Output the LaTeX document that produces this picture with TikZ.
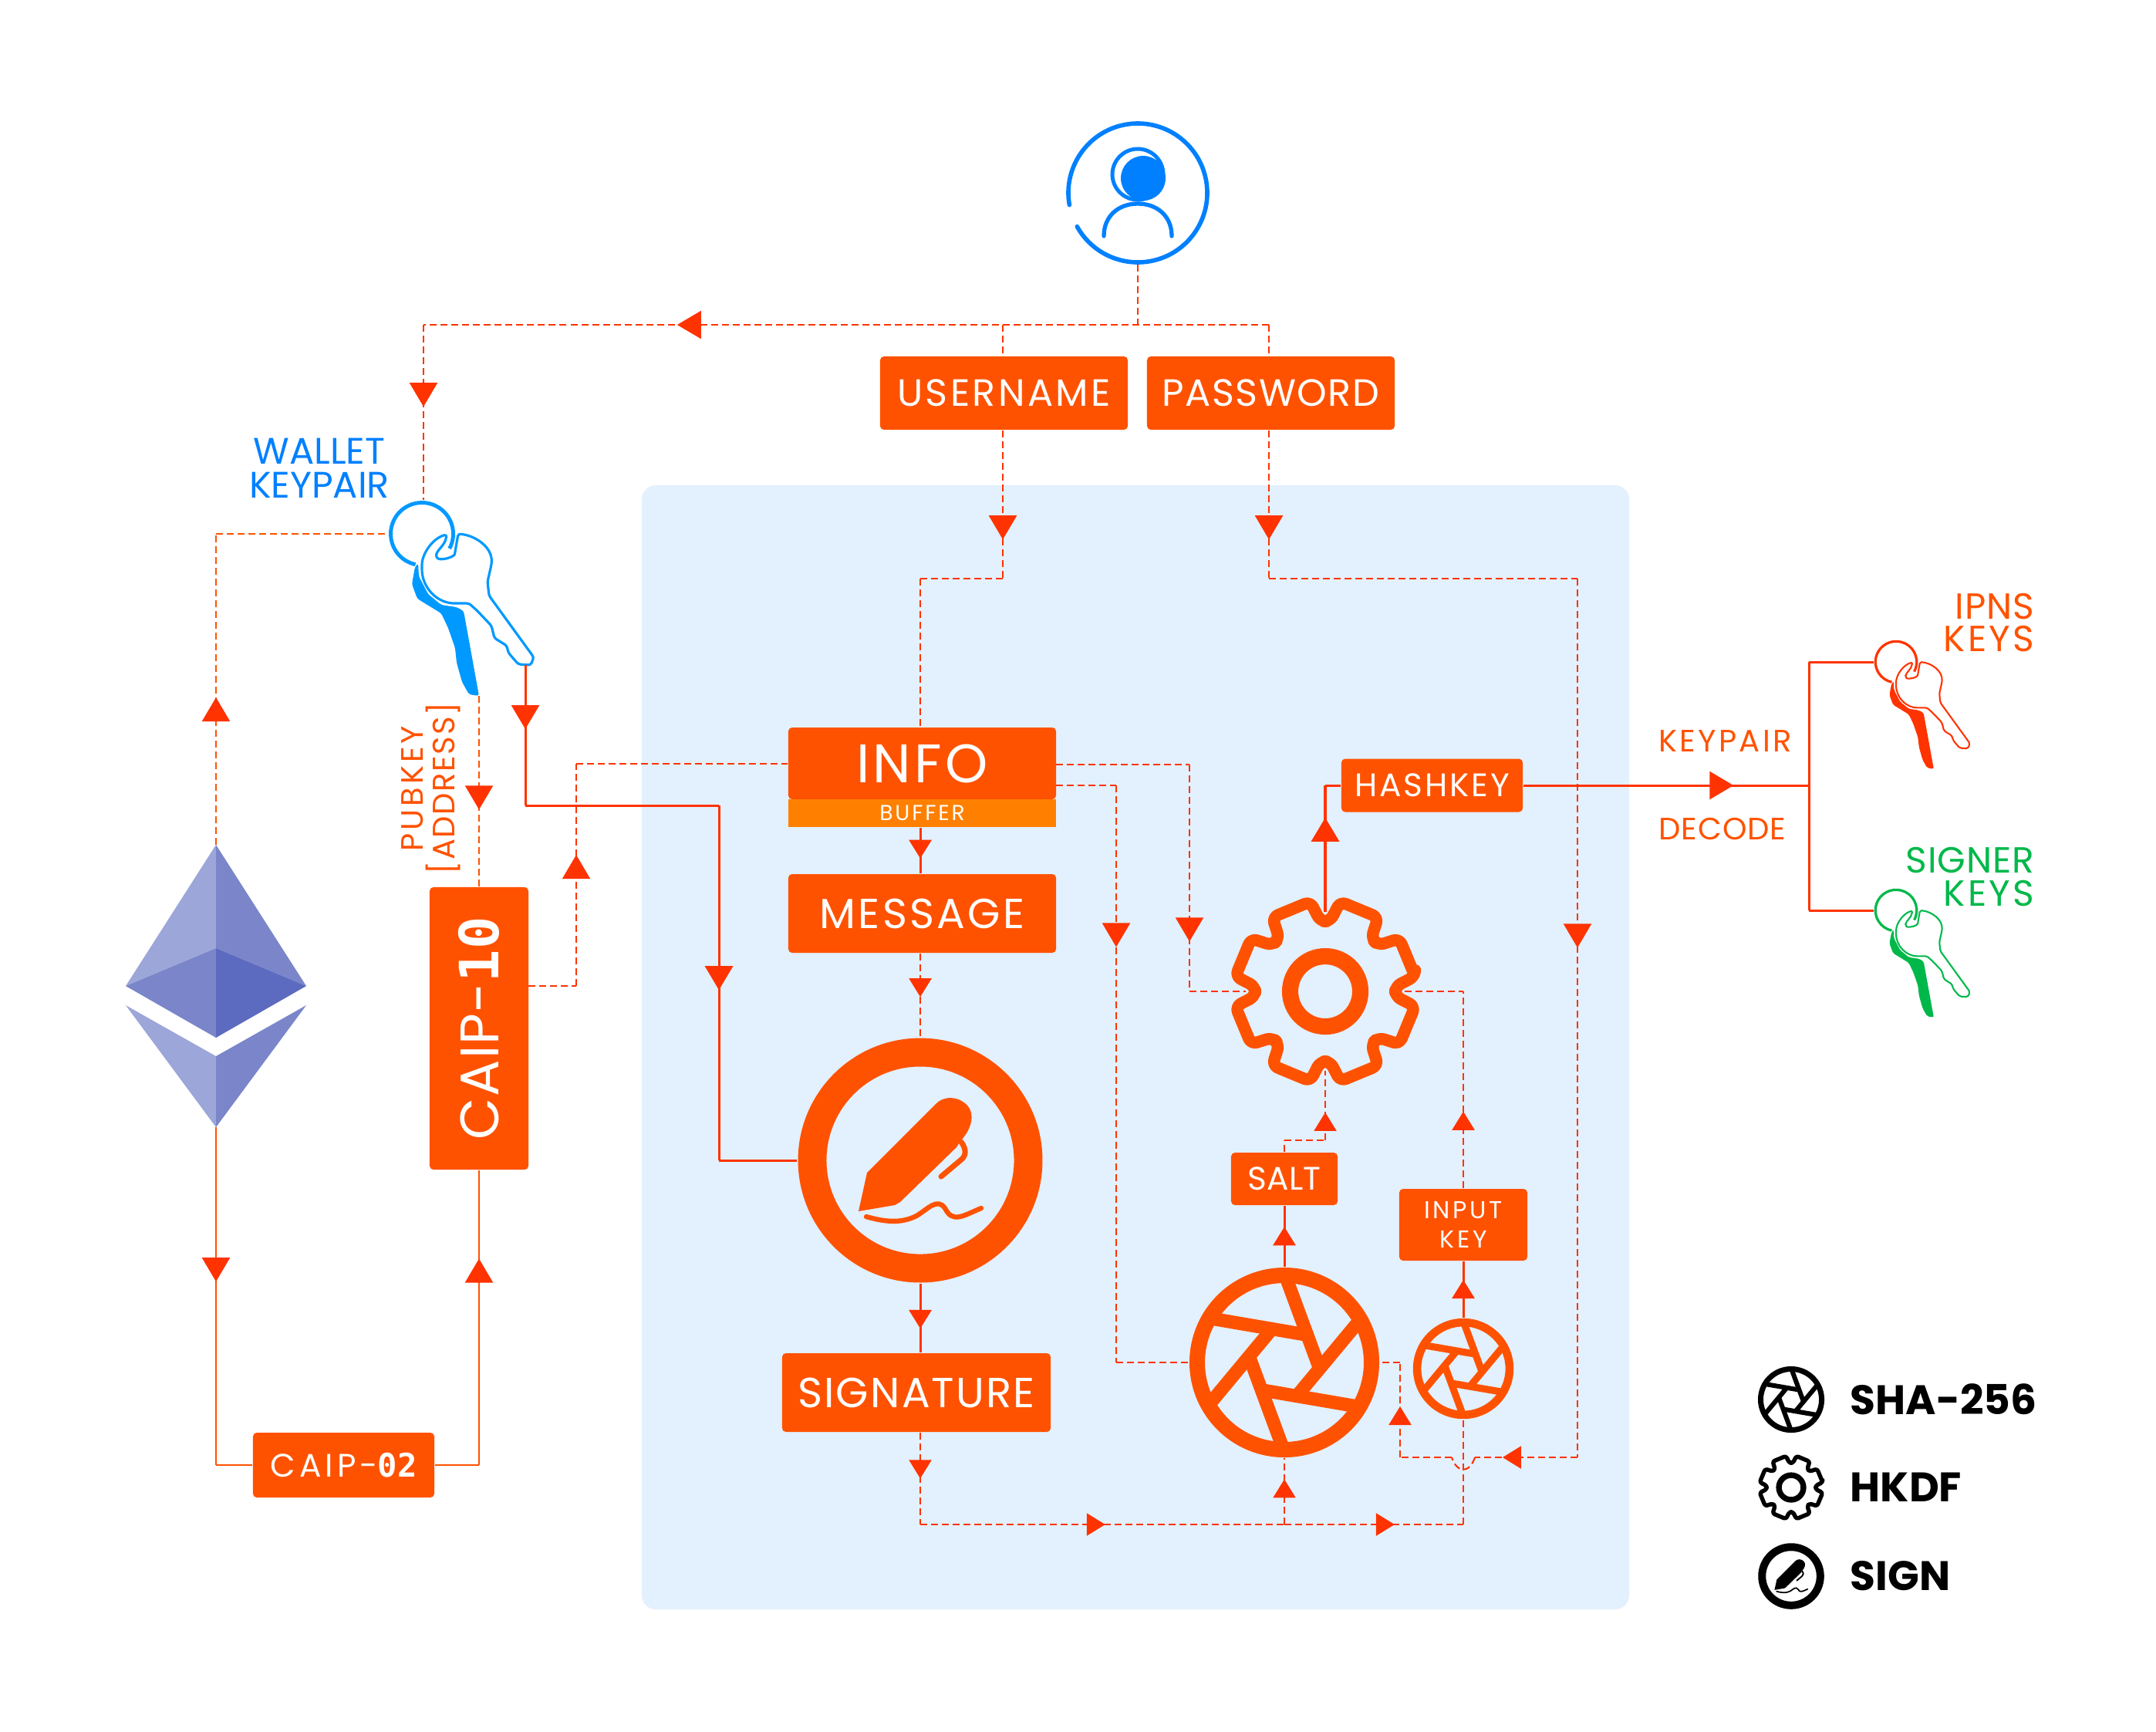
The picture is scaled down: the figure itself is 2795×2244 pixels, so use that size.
\documentclass[tikz,border=0pt]{standalone}
\usepackage{fontspec}
\usepackage{tikz}
\usetikzlibrary{arrows.meta,decorations.markings}
\setmainfont{Poppins}
\newfontfamily\chiffres{DejaVu Sans Mono}
\newcommand{\etire}[2]{{\addfontfeatures{LetterSpace=#1}#2}}

\definecolor{orangebox}{HTML}{FF5200}
\definecolor{rouge}{HTML}{FF3300}
\definecolor{bleu}{HTML}{0080FF}
\definecolor{bleukey}{HTML}{0099FF}
\definecolor{panneau}{HTML}{E3F0FD}
\definecolor{tampon}{HTML}{FF8000}
\definecolor{vert}{HTML}{00B84A}
\definecolor{ethclair}{HTML}{9CA6D8}
\definecolor{ethmoyen}{HTML}{7A86C9}
\definecolor{ethfonce}{HTML}{5C6ABF}

\tikzset{
  boite/.style={fill=orangebox,text=white,rounded corners=.05cm,inner sep=0pt,align=center},
  taille/.style={font=\fontsize{#1}{#1}\selectfont},
  icone/.style={circle,inner sep=0pt,minimum size=#1},
  pointille/.style={draw=rouge,line width=.6pt,dash pattern=on .09cm off .05cm},
  pointilleO/.style={draw=orangebox,line width=.6pt,dash pattern=on .09cm off .05cm},
  plein/.style={draw=rouge,line width=.85pt},
  pleinO/.style={draw=orangebox,line width=.6pt},
  tete/.style={postaction={decorate,decoration={markings,mark=at position #1 with {\arrow{Triangle[length=3.1mm,width=3.6mm,color=rouge]}}}}},
  tetep/.style={postaction={decorate,decoration={markings,mark=at position #1 with {\arrow{Triangle[length=2.4mm,width=2.9mm,color=rouge]}}}}},
  pics/shutter/.style={code={
    \begin{scope}[scale=#1]
      \draw[line width=#1*5.7pt] (0,0) circle[radius=113];
      \foreach \a in {0,60,...,300}
        \draw[line width=#1*4.9pt] ({\a+11}:47) -- ({\a-88}:106);
    \end{scope}
  }},
  pics/roue/.style={code={
    \begin{scope}[scale=#1]
      \draw[line width=#1*4.4pt,line join=round,rounded corners=#1*.8mm]
        (-9.5:118) foreach \a in {0,45,...,315} { -- ({\a-9.5}:118) -- ({\a-4}:91) -- ({\a+4}:91) -- ({\a+9.5}:118)} -- cycle;
      \draw[line width=#1*6pt] (0,0) circle[radius=45.5];
    \end{scope}
  }},
  pics/stylo/.style={code={
    \begin{scope}[scale=#1]
      \draw[line width=#1*10.5pt] (0,0) circle[radius=140];
      \fill (-80,66) -- (-69,16) -- (20,-73) .. controls (30,-84) and (50,-84) .. (62,-70)
        .. controls (70,-60) and (68,-42) .. (52,-25) -- (47,-17) -- (-26,54) -- (-33,58) -- cycle;
      \draw[line width=#1*2pt,line cap=round] (53,-24) .. controls (60,-14) and (60,-6) .. (52,0) -- (27,21);
      \draw[line width=#1*1.8pt,line cap=round] (-70,73) .. controls (-45,80) and (-25,82) .. (-5,72)
        .. controls (10,63) and (22,48) .. (32,62) .. controls (42,82) and (55,72) .. (79,62);
    \end{scope}
  }},
  pics/trousseau/.style 2 args={code={
    \begin{scope}[scale=#1]
      \draw[#2,line width=#1*1.4pt] (28:40.5) arc[start angle=28,end angle=-258,radius=40.5];
      \fill[#2,rounded corners=#1*.3mm] (-9,43) -- (-13,65) -- (-6,84) -- (25,103) -- (34,122) -- (43,148) -- (45,167)
        -- (52,192) -- (61,208) -- (74,210) -- (54,100) -- (45,95) -- (25,92) -- (8,78) -- (-4,55) -- (-5,38) -- cycle;
      \draw[#2,line width=#1*.9pt,rounded corners=#1*.3mm] (47,0) .. controls (70,2) and (92,18) .. (90,40)
        -- (85,62) -- (87,80) -- (145,160) -- (141,170) -- (125,169) -- (112,154) -- (110,145) -- (94,135)
        -- (90,119) -- (72,100) -- (61,90) -- (45,90) .. controls (20,90) and (0,70) .. (0,43)
        .. controls (0,25) and (15,5) .. (32,1) .. controls (30,15) and (20,20) .. (18,30)
        .. controls (25,35) and (42,30) .. (43,23) -- cycle;
    \end{scope}
  }}
}

\begin{document}
\begin{tikzpicture}[x=0.01cm,y=-0.01cm]

    \useasboundingbox (0,0) rectangle (2795,2244);

    % Panel
    \fill[panneau,rounded corners=.18cm] (832,629) rectangle (2112,2086);

    % Boxes
    \node[boite,taille=14,minimum width=3.21cm,minimum height=.95cm] (username) at (1301.5,509.5) {\etire{7}{USERNAME}};
    \node[boite,taille=14,minimum width=3.21cm,minimum height=.95cm] (password) at (1647.5,509.5) {\etire{3}{PASSWORD}};
    \node[boite,taille=20,minimum width=3.47cm,minimum height=.93cm] (info) at (1195.5,989.5) {\etire{6}{INFO}};
    \node[fill=tampon,text=white,taille=8,inner sep=0pt,minimum width=3.47cm,minimum height=.36cm] (buffer) at (1195.5,1054) {\raisebox{-.02cm}{\etire{10}{BUFFER}}};
    \node[boite,taille=15.5,minimum width=3.47cm,minimum height=1.02cm] (message) at (1195.5,1184) {\etire{6}{MESSAGE}};
    \node[boite,taille=15.5,minimum width=3.48cm,minimum height=1.02cm] (signature) at (1188,1805) {\etire{4}{SIGNATURE}};
    \node[boite,taille=12,minimum width=2.35cm,minimum height=.69cm] (hashkey) at (1856.5,1018) {\etire{7}{HASHKEY}};
    \node[boite,taille=12,minimum width=1.38cm,minimum height=.68cm] (salt) at (1665,1528) {SALT};
    \node[boite,font=\fontsize{9}{11}\selectfont,minimum width=1.66cm,minimum height=.93cm] (inputkey) at (1897,1587.5) {\etire{12}{INPUT}\\\etire{12}{KEY}};
    \node[boite,taille=20,rotate=90,minimum width=3.66cm,minimum height=1.28cm] (caipten) at (621,1333) {\etire{2}{CAIP-}{\chiffres\bfseries 10}};
    \node[boite,taille=12,minimum width=2.35cm,minimum height=.84cm] (caiptwo) at (445.5,1899) {\etire{12}{CAIP-}{\chiffres\bfseries 02}};

    % Labels
    \node[text=bleu,align=center,font=\fontsize{13.6}{12.6}\selectfont] (walletlabel) at (414,607) {WALLET\\KEYPAIR};
    \node[text=orangebox,align=center,rotate=90,font=\fontsize{11.4}{10.2}\selectfont] (pubkeylabel) at (559,1022) {\etire{10}{PUBKEY}\\\etire{4}{{[}ADDRESS{]}}};
    \node[text=orangebox,taille=11.4,anchor=west,inner sep=0pt] (keypairlabel) at (2150,960) {\etire{8}{KEYPAIR}};
    \node[text=orangebox,taille=11.4,anchor=west,inner sep=0pt] (decodelabel) at (2150,1074) {\etire{2}{DECODE}};
    \node[text=orangebox,align=right,anchor=east,inner sep=0pt,font=\fontsize{13.4}{12.2}\selectfont] (ipnslabel) at (2638,807) {\etire{2}{IPNS}\\\etire{7}{KEYS}};
    \node[text=vert,align=right,anchor=east,inner sep=0pt,font=\fontsize{13.4}{12.2}\selectfont] (signerlabel) at (2638,1136.5) {\etire{2}{SIGNER}\\\etire{7}{KEYS}};

    % Icons
    \node[icone=1.84cm] (user) at (1475,250) {};
    \draw[bleu,line width=1.6pt,line cap=round] (170:90) ++(1475,250) arc[start angle=170,end angle=511,radius=90];
    \draw[bleu,line width=1.4pt] (1475,226) circle[radius=33];
    \fill[bleu] (1482,231) circle[radius=29];
    \draw[bleu,line width=1.5pt,line cap=round] (1431,306) .. controls (1431,280) and (1450,264) .. (1475,264) .. controls (1500,264) and (1519,280) .. (1519,306);

    \node[icone=3.18cm] (signc) at (1193,1504) {};
    \pic[color=orangebox] at (1193,1504) {stylo=1};
    \node[icone=2.04cm] (gear) at (1718,1285) {};
    \pic[color=orangebox] at (1718,1285) {roue=1};
    \node[icone=2.46cm] (shaBig) at (1665,1766) {};
    \pic[color=orangebox] at (1665,1766) {shutter=1};
    \node[icone=1.30cm] (shaSmall) at (1897,1774) {};
    \pic[color=orangebox] at (1897,1774) {shutter=0.53};

    % Keys
    \node[icone=.86cm] (walletRing) at (547,692) {};
    \pic at (547,692) {trousseau={1}{bleukey}};
    \node[icone=.56cm] (ipnsRing) at (2458,858) {};
    \pic at (2458,858) {trousseau={0.66}{rouge}};
    \node[icone=.56cm] (signerRing) at (2458,1180) {};
    \pic at (2458,1180) {trousseau={0.66}{vert}};

    % Ethereum
    \fill[ethclair] (280,1095) -- (280,1229) -- (163,1278) -- cycle;
    \fill[ethmoyen] (280,1095) -- (397,1278) -- (280,1229) -- cycle;
    \fill[ethmoyen] (163,1278) -- (280,1229) -- (280,1345) -- cycle;
    \fill[ethfonce] (397,1278) -- (280,1229) -- (280,1345) -- cycle;
    \fill[ethclair] (163,1303) -- (280,1369) -- (280,1461) -- cycle;
    \fill[ethmoyen] (397,1303) -- (280,1369) -- (280,1461) -- cycle;
    \coordinate (ethTop) at (280,1095);
    \coordinate (ethBottom) at (280,1461);

    % Junctions
    \coordinate (jTop) at (1475,421);
    \coordinate (jUser) at (1300,421);
    \coordinate (jPass) at (1645,421);
    \coordinate (jKey) at (549,421);
    \coordinate (jUserDown) at (1300,750);
    \coordinate (axeInfo) at (1193,750);
    \coordinate (jPassDown) at (1645,750);
    \coordinate (jPassRight) at (2045,750);
    \coordinate (jPassBottom) at (2045,1889);
    \coordinate (hopA) at (1912,1889);
    \coordinate (hopB) at (1882,1889);
    \coordinate (jShaFeed) at (1815,1889);
    \coordinate (jShaOut) at (1815,1766);
    \coordinate (jCaipR) at (685,1278);
    \coordinate (jCaipC) at (747,1278);
    \coordinate (jCaipH) at (747,990);
    \coordinate (keyTip) at (621,902);
    \coordinate (keyTwo) at (681,862);
    \coordinate (keyTwoC) at (681,1044);
    \coordinate (jSign) at (932,1044);
    \coordinate (jSignB) at (932,1504);
    \coordinate (jLeft) at (280,692);
    \coordinate (jEthB) at (280,1899);
    \coordinate (jCaipB) at (621,1899);
    \coordinate (jBot) at (1193,1976);
    \coordinate (jBotSha) at (1665,1976);
    \coordinate (jBotKey) at (1897,1976);
    \coordinate (jSaltA) at (1665,1478);
    \coordinate (jSaltB) at (1718,1478);
    \coordinate (jGearR) at (1897,1285);
    \coordinate (jHash) at (1718,1018);
    \coordinate (jInfoA) at (1369,991);
    \coordinate (jInfoB) at (1542,991);
    \coordinate (jInfoC) at (1542,1285);
    \coordinate (jInfoD) at (1369,1018);
    \coordinate (jInfoE) at (1447,1018);
    \coordinate (jInfoF) at (1447,1766);
    \coordinate (jKeys) at (2345,1018);
    \coordinate (jIpns) at (2345,858);
    \coordinate (jSigner) at (2345,1180);

    % Top connectors
    \draw[pointille] (user.south) -- (jTop);
    \draw[pointille,tete=.70] (jPass) -- (jKey);
    \draw[pointille,tete=.467] (jKey) -- (jKey |- walletRing.north);
    \draw[pointille] (jUser) -- (jUser |- username.north);
    \draw[pointille] (jPass) -- (jPass |- password.north);
    \draw[pointille,tete=.736] (jUser |- username.south) -- (jUserDown);
    \draw[pointille] (jUserDown) -- (axeInfo);
    \draw[pointille] (axeInfo) -- (axeInfo |- info.north);
    \draw[pointille,tete=.736] (jPass |- password.south) -- (jPassDown);
    \draw[pointille] (jPassDown) -- (jPassRight);
    \draw[pointille,tete=.42] (jPassRight) -- (jPassBottom);
    \draw[pointille,tetep=.73] (jPassBottom) -- (hopA);
    \draw[pointille] (hopA) .. controls (1905,1910) and (1889,1910) .. (hopB);
    \draw[pointille] (hopB) -- (jShaFeed);
    \draw[pointille,tetep=.537] (jShaFeed) -- (jShaOut);
    \draw[pointille] (jShaOut) -- (shaBig.east |- jShaOut);

    % Left side
    \draw[pointille] (jCaipR) -- (jCaipC);
    \draw[pointille,tete=.59] (jCaipC) -- (jCaipH);
    \draw[pointille] (jCaipH) -- (jCaipH -| info.west);
    \draw[pointilleO,tete=.596] (keyTip) -- (caipten.east);
    \draw[pointilleO,tete=.474] (ethTop) -- (jLeft);
    \draw[pointilleO] (jLeft) -- (walletRing.west);
    \draw[plein,tete=.456] (keyTwo) -- (keyTwoC);
    \draw[plein] (keyTwoC) -- (jSign);
    \draw[plein,tete=.52] (jSign) -- (jSignB);
    \draw[plein] (jSignB) -- (signc.west);
    \draw[pleinO,tete=.457] (ethBottom) -- (jEthB);
    \draw[pleinO] (jEthB) -- (caiptwo.west);
    \draw[pleinO] (caiptwo.east) -- (jCaipB);
    \draw[pleinO,tete=.70] (jCaipB) -- (caipten.west);

    % Centre column
    \draw[plein,tetep=.67] (axeInfo |- buffer.south) -- (axeInfo |- message.north);
    \draw[pointille,tetep=.52] (axeInfo |- message.south) -- (signc.north);
    \draw[plein,tetep=.65] (signc.south) -- (axeInfo |- signature.north);
    \draw[pointille,tetep=.5] (axeInfo |- signature.south) -- (jBot);
    \draw[pointille,tetep=.508] (jBot) -- (jBotSha);
    \draw[pointille,tetep=.68] (jBotSha) -- (shaBig.south);
    \draw[pointille,tetep=.616] (jBotSha) -- (jBotKey);
    \draw[pointille] (jBotKey) -- (shaSmall.south);

    % Right column
    \draw[plein,tetep=.654] (shaBig.north) -- (salt.south);
    \draw[pointille] (salt.north) -- (jSaltA);
    \draw[pointille] (jSaltA) -- (jSaltB);
    \draw[pointille,tetep=.40] (jSaltB) -- (gear.south);
    \draw[plein,tetep=.67] (shaSmall.north) -- (inputkey.south);
    \draw[pointille] (gear.east) -- (jGearR);
    \draw[pointille,tetep=.39] (inputkey.north) -- (jGearR);
    \draw[plein,line width=1.1pt,tete=.745] (gear.north) -- (jHash);
    \draw[plein] (jHash) -- (hashkey.west);
    \draw[pointille] (jInfoA) -- (jInfoB);
    \draw[pointille,tete=.78] (jInfoB) -- (jInfoC);
    \draw[pointille] (jInfoC) -- (gear.west);
    \draw[pointille] (jInfoD) -- (jInfoE);
    \draw[pointille,tete=.28] (jInfoE) -- (jInfoF);
    \draw[pointille] (jInfoF) -- (shaBig.west);
    \draw[plein,tete=.736] (hashkey.east) -- (jKeys);
    \draw[plein] (jIpns) -- (jSigner);
    \draw[plein] (jIpns) -- (ipnsRing.west);
    \draw[plein] (jSigner) -- (signerRing.west);

    % Legend
    \pic[color=black] at (2322,1814) {shutter=0.35};
    \pic[color=black] at (2322,1928) {roue=0.35};
    \pic[color=black] at (2322,2043) {stylo=0.27};
    \node[anchor=west,inner sep=0pt,font=\fontsize{15.2}{16}\selectfont\bfseries] (legendsha) at (2398,1814) {SHA-256};
    \node[anchor=west,inner sep=0pt,font=\fontsize{15.2}{16}\selectfont\bfseries] (legendhkdf) at (2398,1928) {HKDF};
    \node[anchor=west,inner sep=0pt,font=\fontsize{15.2}{16}\selectfont\bfseries] (legendsign) at (2398,2043) {SIGN};

\end{tikzpicture}
\end{document}
